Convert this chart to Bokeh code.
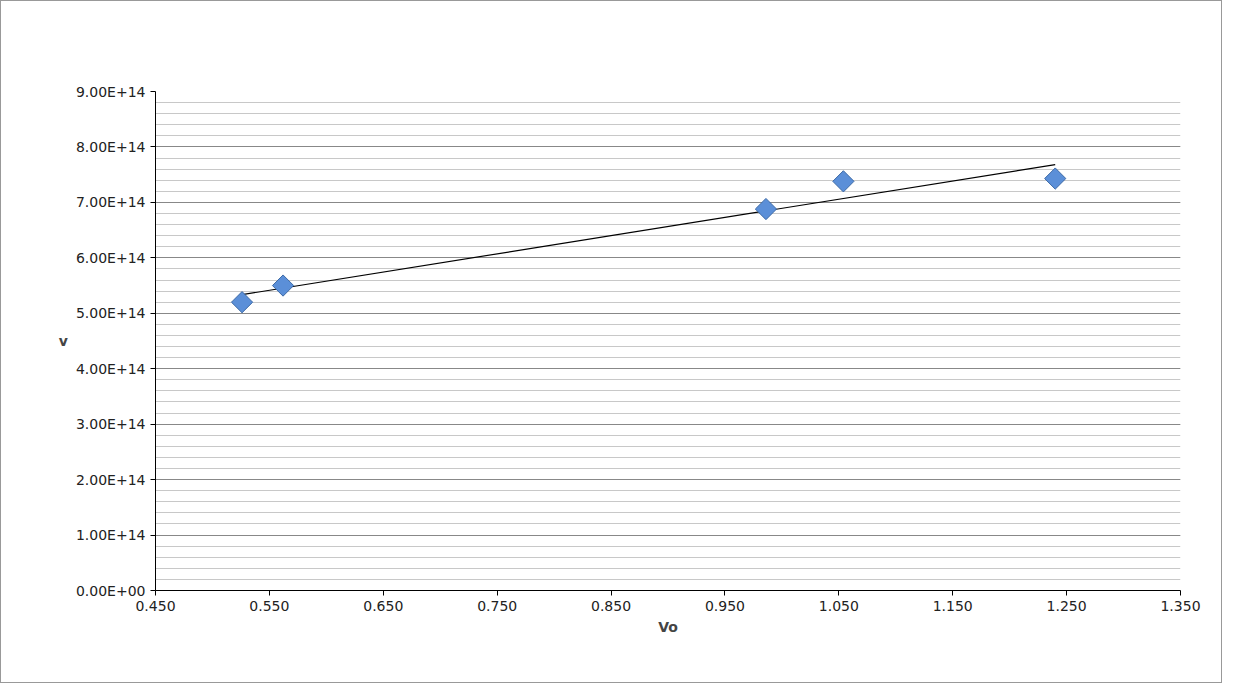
import numpy as np
from bokeh.plotting import figure
from bokeh.models import FixedTicker, Label, Range1d
from bokeh.embed import file_html
from bokeh.resources import INLINE

# data
vo = [0.526, 0.562, 0.986, 1.054, 1.240]
nu = [5.20e14, 5.50e14, 6.88e14, 7.38e14, 7.43e14]

x_ticks = [0.45, 0.55, 0.65, 0.75, 0.85, 0.95, 1.05, 1.15, 1.25, 1.35]
y_ticks = [i * 1e14 for i in range(10)]
y_labels = ["0.00E+00"] + ["%d.00E+14" % i for i in range(1, 10)]

FONT = "DejaVu Sans"

p = figure(
    width=1222, height=683,
    output_backend="svg", toolbar_location=None,
    x_range=Range1d(0.45, 1.35), y_range=Range1d(0, 9e14),
    min_border_left=154, min_border_right=43, min_border_top=90, min_border_bottom=94,
)
p.styles = {"border": "1px solid #999999"}
p.outline_line_color = None

p.xaxis.ticker = FixedTicker(ticks=x_ticks)
p.xaxis.major_label_overrides = {t: "%.3f" % t for t in x_ticks}
p.yaxis.ticker = FixedTicker(ticks=y_ticks, minor_ticks=[i * 2e13 for i in range(46)])
p.yaxis.major_label_overrides = dict(zip(y_ticks, y_labels))
for ax in (p.xaxis, p.yaxis):
    ax.major_label_text_font = FONT
    ax.major_label_text_font_size = "14px"
    ax.major_label_text_color = "#222222"
    ax.axis_line_color = "black"
    ax.major_tick_line_color = "black"
    ax.major_tick_in = 0
    ax.major_tick_out = 5
    ax.minor_tick_line_color = None
    ax.axis_label_text_font = FONT
    ax.axis_label_text_font_style = "bold"
    ax.axis_label_text_font_size = "14px"
p.xaxis.axis_label = "Vo"
p.yaxis.axis_label = "v"
p.yaxis.axis_label_orientation = "horizontal"

p.xgrid.grid_line_color = None
p.ygrid.grid_line_color = "#888888"
p.ygrid.minor_grid_line_color = "#c8c8c8"

# linear trendline over the data span
k, b = np.polyfit(vo, nu, 1)
tx = [min(vo), max(vo)]
p.line(tx, [k * x + b for x in tx], line_color="black", line_width=1.2)

p.scatter(vo, nu, marker="square", angle=np.pi / 4, size=15, fill_color="#5b8fd8",
          line_color="#3d6aa6", line_width=1)

p.add_layout(Label(x=456, y=550, x_units="screen", y_units="screen", text="Vo Vs v",
                   text_font=FONT, text_font_style="bold", text_font_size="26px",
                   text_align="center", text_baseline="middle"))
p.add_layout(Label(x=838, y=550, x_units="screen", y_units="screen",
                   text="y = 3E+14x + 4E+14", text_font=FONT,
                   text_font_size="20px", text_align="center", text_baseline="middle"))
p.add_layout(Label(x=838, y=520, x_units="screen", y_units="screen",
                   text="R² = 0.95997", text_font=FONT,
                   text_font_size="20px", text_align="center", text_baseline="middle"))

open("out.html", "w").write(file_html(p, INLINE))
